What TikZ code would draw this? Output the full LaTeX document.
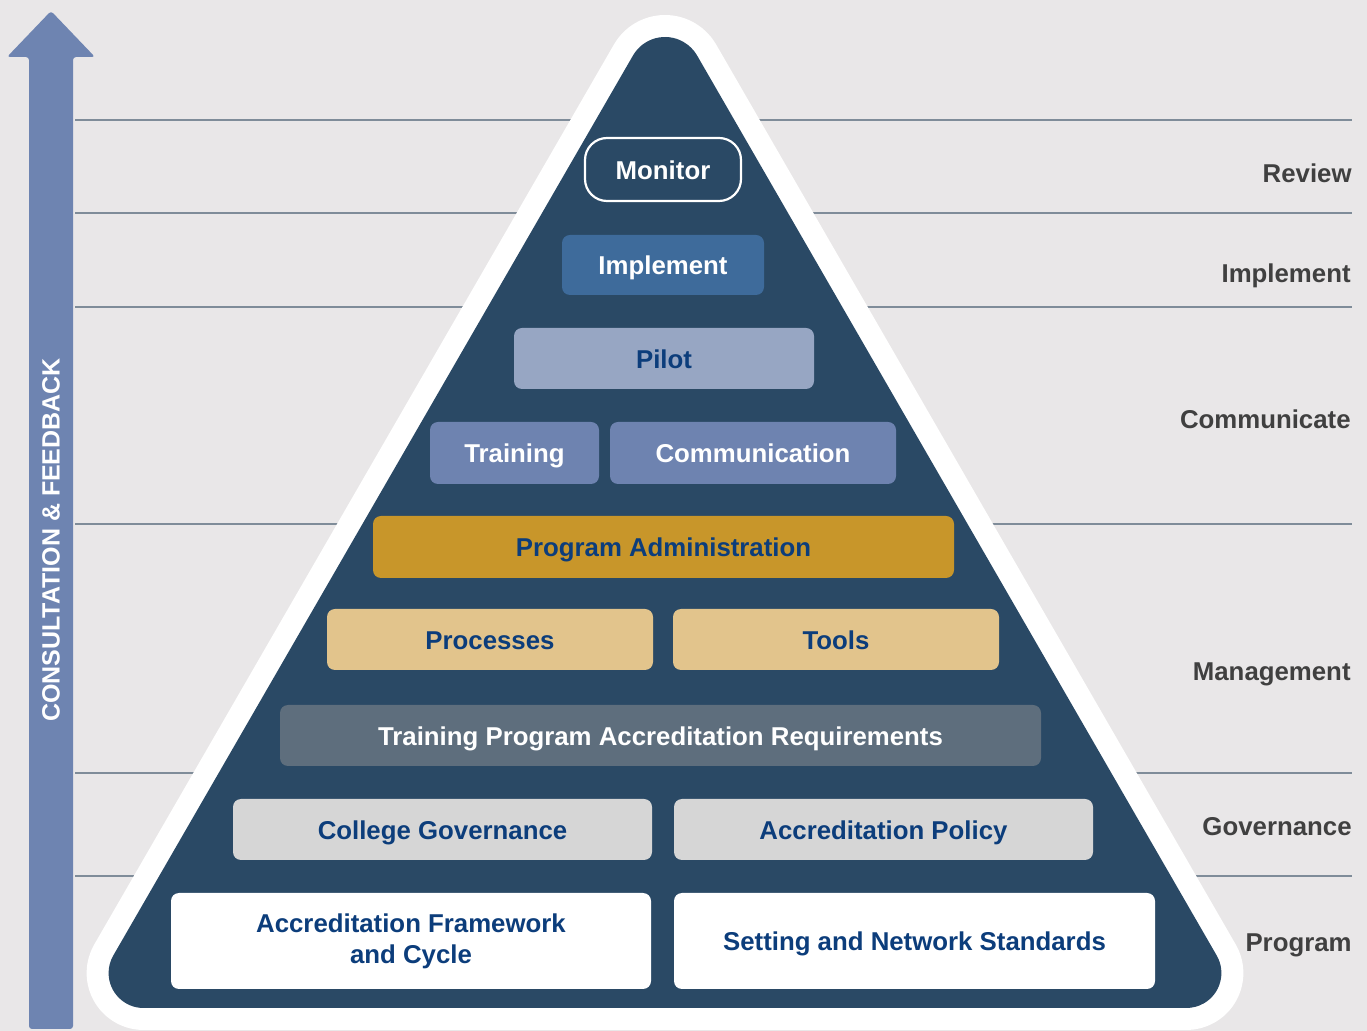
\documentclass[tikz,border=0pt]{standalone}
\usepackage{fontspec}
\setmainfont{Liberation Sans}
\definecolor{bgc}{HTML}{E9E7E8}
\definecolor{pyr}{HTML}{2A4965}
\definecolor{arrowc}{HTML}{6E84B1}
\definecolor{linec}{HTML}{7F8C99}
\definecolor{dblue}{HTML}{0C3D7B}
\definecolor{labc}{HTML}{404040}
\definecolor{implc}{HTML}{3E6B9B}
\definecolor{pilotc}{HTML}{97A6C3}
\definecolor{trainc}{HTML}{6E83B0}
\definecolor{adminc}{HTML}{C8962A}
\definecolor{procc}{HTML}{E2C48C}
\definecolor{reqc}{HTML}{5E6E7D}
\definecolor{govc}{HTML}{D6D6D6}
\begin{document}
\begin{tikzpicture}[x=0.5pt,y=-0.5pt,
  every node/.style={font=\fontsize{12.9}{15.5}\selectfont\bfseries},
  box/.style={rounded corners=4pt, minimum height=30.5pt, inner sep=0pt,
    text height=10pt, text depth=0pt},
  lab/.style={text=labc, anchor=base east, inner sep=0pt},
  sep/.style={draw=linec, line width=1pt}]
\useasboundingbox (0,0) rectangle (1367,1031);
\fill[bgc] (0,0) rectangle (1367,1031);
% separator lines
\foreach \yy in {120,213,307,524,773,876} {
  \draw[sep] (75,\yy) -- (1352,\yy);
}
% pyramid
\def\pyrpath{(665,1008) -- (143.6,1008) arc[start angle=-90,end angle=-210,radius=17.5pt]
  -- (633,55.5) arc[start angle=150,end angle=30,radius=18.5pt]
  -- (1216.7,955.5) arc[start angle=30,end angle=-90,radius=17.5pt] -- cycle}
\draw[white, line width=22pt, line join=round] \pyrpath;
\fill[pyr] \pyrpath;
% arrow
\fill[arrowc, rounded corners=1.5pt] (29,1029) -- (29,57) -- (7,57) -- (51,11)
  -- (95,57) -- (73,57) -- (73,1029) -- cycle;
\node[rotate=90, text=white, inner sep=0pt, font=\fontsize{12.5}{14}\selectfont\bfseries]
  (cf) at (51,540) {CONSULTATION \& FEEDBACK};
% boxes
\node[box, draw=white, line width=1.1pt, rounded corners=11pt, text=white,
  minimum width=78pt, minimum height=31.5pt] (monitor) at (663,169.5) {Monitor};
\node[box, fill=implc, text=white, minimum width=101pt, minimum height=30pt]
  (implement) at (663,265) {Implement};
\node[box, fill=pilotc, text=dblue, minimum width=150pt] (pilot) at (664,358.5) {Pilot};
\node[box, fill=trainc, text=white, minimum width=84.5pt, minimum height=31pt]
  (training) at (514.5,453) {Training};
\node[box, fill=trainc, text=white, minimum width=143pt, minimum height=31pt]
  (comm) at (753,453) {Communication};
\node[box, fill=adminc, text=dblue, minimum width=290.5pt, minimum height=31pt]
  (admin) at (663.5,547) {Program Administration};
\node[box, fill=procc, text=dblue, minimum width=163pt] (proc) at (490,639.5) {Processes};
\node[box, fill=procc, text=dblue, minimum width=163pt] (tools) at (836,639.5) {Tools};
\node[box, fill=reqc, text=white, minimum width=380.5pt] (req) at (660.5,735.5)
  {Training Program Accreditation Requirements};
\node[box, fill=govc, text=dblue, minimum width=209.5pt] (cg) at (442.5,829.5) {College Governance};
\node[box, fill=govc, text=dblue, minimum width=209.5pt] (ap) at (883.5,829.5) {Accreditation Policy};
\node[rounded corners=4pt, fill=white, text=dblue, minimum width=240pt, minimum height=48pt,
  inner sep=0pt, align=center] (afc) at (411,941) {Accreditation Framework\\and Cycle};
\node[box, fill=white, text=dblue, minimum width=240.5pt, minimum height=48pt]
  (sns) at (914.5,941) {Setting and Network Standards};
% right labels
\node[lab] (lreview) at (1352,183) {Review};
\node[lab] (limpl) at (1351,283) {Implement};
\node[lab] (lcomm) at (1351,429) {Communicate};
\node[lab] (lman) at (1351,681) {Management};
\node[lab] (lgov) at (1352,836) {Governance};
\node[lab] (lprog) at (1352,952) {Program};
\end{tikzpicture}
\end{document}
